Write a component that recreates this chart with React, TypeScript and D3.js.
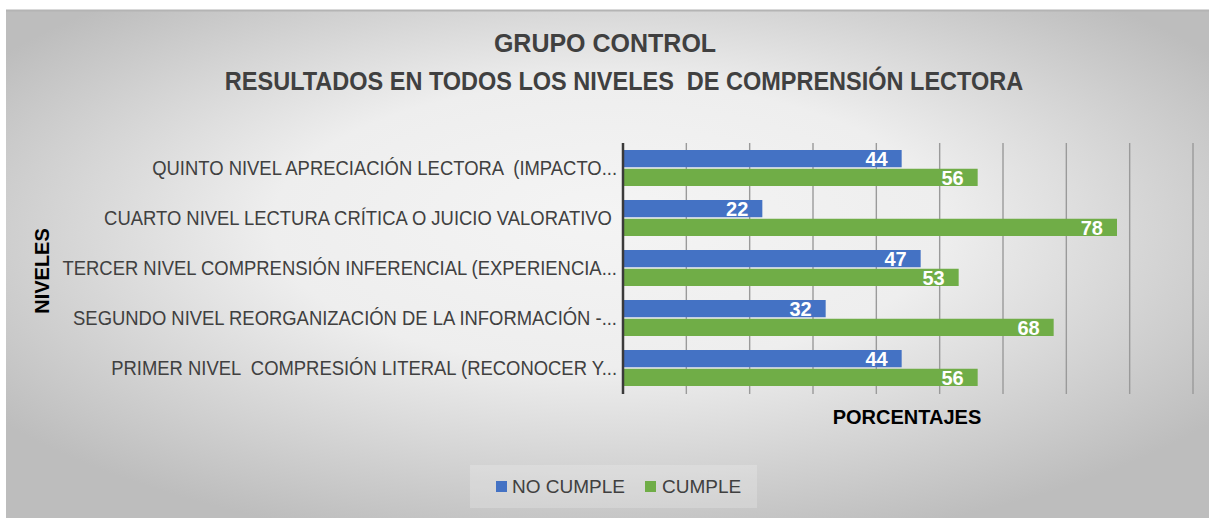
import React from "react";
import * as d3 from "d3";

const categories = [
  "QUINTO NIVEL APRECIACIÓN LECTORA  (IMPACTO...",
  "CUARTO NIVEL LECTURA CRÍTICA O JUICIO VALORATIVO ",
  "TERCER NIVEL COMPRENSIÓN INFERENCIAL (EXPERIENCIA...",
  "SEGUNDO NIVEL REORGANIZACIÓN DE LA INFORMACIÓN -...",
  "PRIMER NIVEL  COMPRESIÓN LITERAL (RECONOCER Y...",
];
const seriesNames = ["NO CUMPLE", "CUMPLE"];
const noCumple = [44, 22, 47, 32, 44];
const cumple = [56, 78, 53, 68, 56];
const gridTicks = [10, 20, 30, 40, 50, 60, 70, 80, 90];
const colors = ["#4472C4", "#70AD47"];

const FONT = "'Liberation Sans', Arial, sans-serif";

export default function App() {
  const W = 1209;
  const H = 518;
  const x = d3.scaleLinear().domain([0, 90]).range([623, 1193]);
  const y = d3.scaleBand<string>().domain(categories).range([143, 393]).padding(0);
  const sub = d3
    .scaleBand<string>()
    .domain(seriesNames)
    .range([7, 43])
    .paddingInner(0.08);
  const values = [noCumple, cumple];
  const plotTop = 143;
  const plotBottom = 394;

  return (
    <div style={{ position: "absolute", left: 0, top: 0 }}>
      <svg width={W} height={H} style={{ display: "block" }}>
        <defs>
          <radialGradient id="bg" cx="50%" cy="45%" r="62%" fx="50%" fy="40%">
            <stop offset="0%" stopColor="#f4f4f4" />
            <stop offset="45%" stopColor="#eeeeee" />
            <stop offset="100%" stopColor="#bdbdbd" />
          </radialGradient>
        </defs>
        <rect x={0} y={0} width={W} height={H} fill="#ffffff" />
        <rect x={6} y={10} width={W - 6} height={H - 10} fill="url(#bg)" />
        <line x1={6} x2={W} y1={10.5} y2={10.5} stroke="#b4b4b4" strokeWidth={2} />

        {/* Titles */}
        <g transform="translate(605,52) scale(1.0,1)">
          <text
            textAnchor="middle"
            fontFamily={FONT}
            fontWeight="bold"
            fontSize={25}
            fill="#404040"
          >
            GRUPO CONTROL
          </text>
        </g>
        <g transform="translate(624,90) scale(0.94,1)">
          <text
            textAnchor="middle"
            fontFamily={FONT}
            fontWeight="bold"
            fontSize={25}
            fill="#404040"
            style={{ whiteSpace: "pre" }}
          >
            RESULTADOS EN TODOS LOS NIVELES  DE COMPRENSIÓN LECTORA
          </text>
        </g>

        {/* Gridlines */}
        {gridTicks.map((t) => (
          <line
            key={t}
            x1={x(t)}
            x2={x(t)}
            y1={plotTop}
            y2={plotBottom}
            stroke="#9a9a9a"
            strokeWidth={1.4}
          />
        ))}

        {/* Bars */}
        {categories.map((c, i) => (
          <g key={c} transform={`translate(0,${y(c)})`}>
            {seriesNames.map((s, j) => {
              const v = values[j][i];
              const by = sub(s)!;
              const bh = sub.bandwidth();
              return (
                <g key={s}>
                  <rect
                    x={x(0)}
                    y={by}
                    width={x(v) - x(0)}
                    height={bh}
                    fill={colors[j]}
                  />
                  <text
                    x={x(v) - 14}
                    y={by + bh / 2}
                    dy="0.36em"
                    textAnchor="end"
                    fontFamily={FONT}
                    fontWeight="bold"
                    fontSize={20}
                    fill="#ffffff"
                  >
                    {v}
                  </text>
                </g>
              );
            })}
          </g>
        ))}

        {/* Axis line */}
        <line
          x1={x(0)}
          x2={x(0)}
          y1={plotTop}
          y2={plotBottom}
          stroke="#3a3a3a"
          strokeWidth={2.5}
        />

        {/* Category labels */}
        {categories.map((c) => (
          <g
            key={c}
            transform={`translate(617,${y(c)! + y.bandwidth() / 2}) scale(0.922,1)`}
          >
            <text
              dy="0.36em"
              textAnchor="end"
              fontFamily={FONT}
              fontSize={20}
              fill="#404040"
              style={{ whiteSpace: "pre" }}
            >
              {c}
            </text>
          </g>
        ))}

        {/* Axis titles */}
        <text
          transform={`translate(49,271) rotate(-90)`}
          textAnchor="middle"
          fontFamily={FONT}
          fontWeight="bold"
          fontSize={20}
          fill="#000000"
        >
          NIVELES
        </text>
        <text
          x={907}
          y={424}
          textAnchor="middle"
          fontFamily={FONT}
          fontWeight="bold"
          fontSize={20}
          fill="#000000"
        >
          PORCENTAJES
        </text>

        {/* Legend */}
        <rect x={470} y={465} width={287} height={43} fill="#ffffff" opacity={0.2} />
        <rect x={496} y={481} width={11} height={11} fill={colors[0]} />
        <text x={512} y={493} fontFamily={FONT} fontSize={19} fill="#404040">
          {seriesNames[0]}
        </text>
        <rect x={645} y={481} width={11} height={11} fill={colors[1]} />
        <text x={662} y={493} fontFamily={FONT} fontSize={19} fill="#404040">
          {seriesNames[1]}
        </text>
      </svg>
    </div>
  );
}
